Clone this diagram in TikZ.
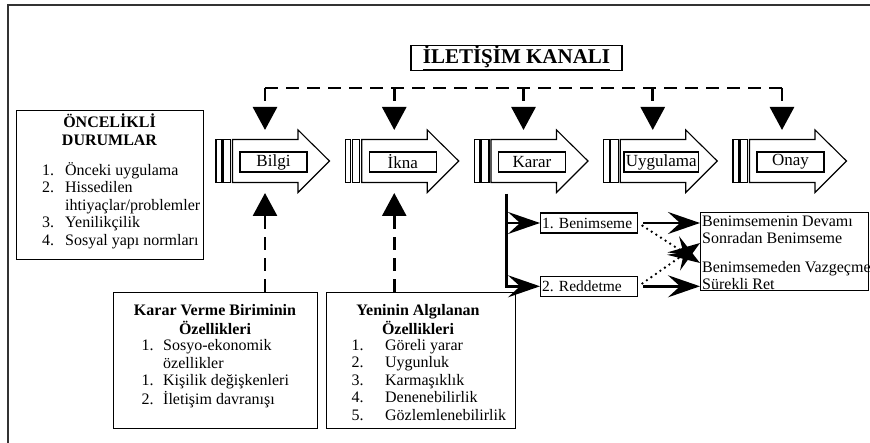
\documentclass[tikz,border=0pt]{standalone}
\usepackage{fontspec}
\setmainfont{Liberation Serif}
\usepackage{xcolor}
\definecolor{frameGray}{RGB}{50,50,50}
\usepackage{tikz}
\usetikzlibrary{positioning,arrows.meta,calc}

\tikzset{
  stagebar/.style={draw=black, line width=1.1pt, fill=white},
  stagelabel/.style={draw=black, line width=1.3pt, fill=white, minimum width=67pt, minimum height=20pt, inner sep=2pt, font=\fontsize{17}{20}\selectfont},
  chan/.style={line width=2.8pt, dash pattern=on 13pt off 8pt, -{Triangle[width=24pt,length=23pt]}},
  infobox/.style={draw=black, line width=1.2pt, anchor=north west, inner sep=0pt},
  bodytext/.style={inner sep=0pt, font=\fontsize{16}{17.5}\selectfont},
  headtext/.style={inner sep=0pt, anchor=north, font=\fontsize{16}{17.5}\selectfont\bfseries},
  choice/.style={draw=black, line width=1.3pt, text width=94pt, align=left, minimum height=20pt, inner sep=1.5pt, anchor=west, font=\fontsize{15.5}{18}\selectfont},
  branch/.style={line width=2.8pt, -{Stealth[length=32pt,width=22pt,inset=12pt]}},
  outcome/.style={line width=2.6pt, dash pattern=on 0pt off 5.5pt, line cap=round, -{Stealth[length=32pt,width=22pt,inset=12pt]}},
}

\begin{document}
\frenchspacing
\begin{tikzpicture}[x=1pt,y=-1pt]
\useasboundingbox (0,0) rectangle (870,443);
\draw[frameGray, line width=2pt] (8,443) -- (8,5) -- (870,5);

\node[draw=black, line width=1.3pt, minimum width=211pt, minimum height=22pt, inner sep=0pt, font=\fontsize{21}{22}\selectfont\bfseries] (kanal) at (516.5,58) {\underline{İLETİŞİM KANALI}};

\foreach \nm/\txt [count=\i from 0] in {bilgi/Bilgi,ikna/İkna,karar/Karar,uyg/Uygulama,onay/Onay}{
  \pgfmathsetmacro\xo{216+129.25*\i}
  \draw[stagebar] (\xo,139.5) rectangle ++(5.5,43);
  \draw[stagebar] (\xo+7,139.5) rectangle ++(7.5,43);
  \draw[stagebar] (\xo+16.5,139.5) -- ++(65.5,0) -- ++(0,-9.5) -- (\xo+113.5,161) -- (\xo+82,192.5) -- ++(0,-10) -- (\xo+16.5,182.5) -- cycle;
  \node[stagelabel] (\nm) at (\xo+57.5,162) {\txt};
  \coordinate (\nm-in) at (\xo+49,130);
  \coordinate (\nm-up) at (\xo+49,193);
}

\coordinate (busL) at (265,88);
\coordinate (busR) at (782,88);
\draw[line width=2.8pt, dash pattern=on 13pt off 8pt] (busL) -- (busR);
\foreach \nm in {bilgi,ikna,karar,uyg,onay}
  \draw[chan] (\nm-in |- busL) -- (\nm-in);

\node[infobox, minimum width=187pt, minimum height=149pt] (oncel) at (16,110) {};
\node[headtext] (oncel-head) at (109.5,114) {\begin{tabular}{@{}c@{}}ÖNCELİKLİ\\DURUMLAR\end{tabular}};
\node[bodytext, anchor=north west] (oncel-list) at (42,162) {\begin{tabular}{@{}p{23pt}@{}l@{}}
1. & Önceki uygulama\\
2. & Hissedilen\\
 & ihtiyaçlar/problemler\\
3. & Yenilikçilik\\
4. & Sosyal yapı normları
\end{tabular}};

\node[infobox, minimum width=204pt, minimum height=136pt] (kvb) at (113,292) {};
\node[headtext] (kvb-head) at (215,303) {\begin{tabular}{@{}c@{}}Karar Verme Biriminin\\Özellikleri\end{tabular}};
\node[bodytext, anchor=north west] (kvb-list) at (141.5,338.5) {\begin{tabular}{@{}p{21.5pt}@{}l@{}}
1. & Sosyo-ekonomik\\
 & özellikler\\
1. & Kişilik değişkenleri\\
2. & İletişim davranışı
\end{tabular}};

\node[infobox, minimum width=189pt, minimum height=136pt] (yeni) at (326,292) {};
\node[headtext] (yeni-head) at (418,303) {\begin{tabular}{@{}c@{}}Yeninin Algılanan\\Özellikleri\end{tabular}};
\node[bodytext, anchor=north west] (yeni-list) at (351.5,338) {\begin{tabular}{@{}p{33.5pt}@{}l@{}}
1. & Göreli yarar\\
2. & Uygunluk\\
3. & Karmaşıklık\\
4. & Denenebilirlik\\
5. & Gözlemlenebilirlik
\end{tabular}};

\draw[chan] (bilgi-up |- kvb.north) -- (bilgi-up);
\draw[chan] (ikna-up |- yeni.north) -- (ikna-up);

\node[choice] (ben) at (540,223) {1. Benimseme};
\node[choice, below=42pt of ben] (red) {2. Reddetme};
\coordinate (karar-foot) at (506.5,194);
\draw[branch] (karar-foot) |- (ben.west);
\draw[branch] (karar-foot) |- (red.west);

\node[infobox, minimum width=168pt, minimum height=78pt] (sonuc) at (700,212) {};
\node[bodytext, anchor=north west] (sonuc-txt) at (702,214) {\begin{tabular}{@{}l@{}}
Benimsemenin Devamı\\
Sonradan Benimseme\\[11pt]
Benimsemeden Vazgeçme\\
Sürekli Ret
\end{tabular}};
\coordinate (later) at (700,243);
\coordinate (quit) at (700,263);

\draw[branch, shorten <=5pt] (ben.east) -- (ben.east -| sonuc.west);
\draw[branch, shorten <=5pt] (red.east) -- (red.east -| sonuc.west);
\draw[outcome, shorten <=5pt] (ben.east) -- (quit);
\draw[outcome, shorten <=5pt] (red.east) -- (later);
\end{tikzpicture}
\end{document}
